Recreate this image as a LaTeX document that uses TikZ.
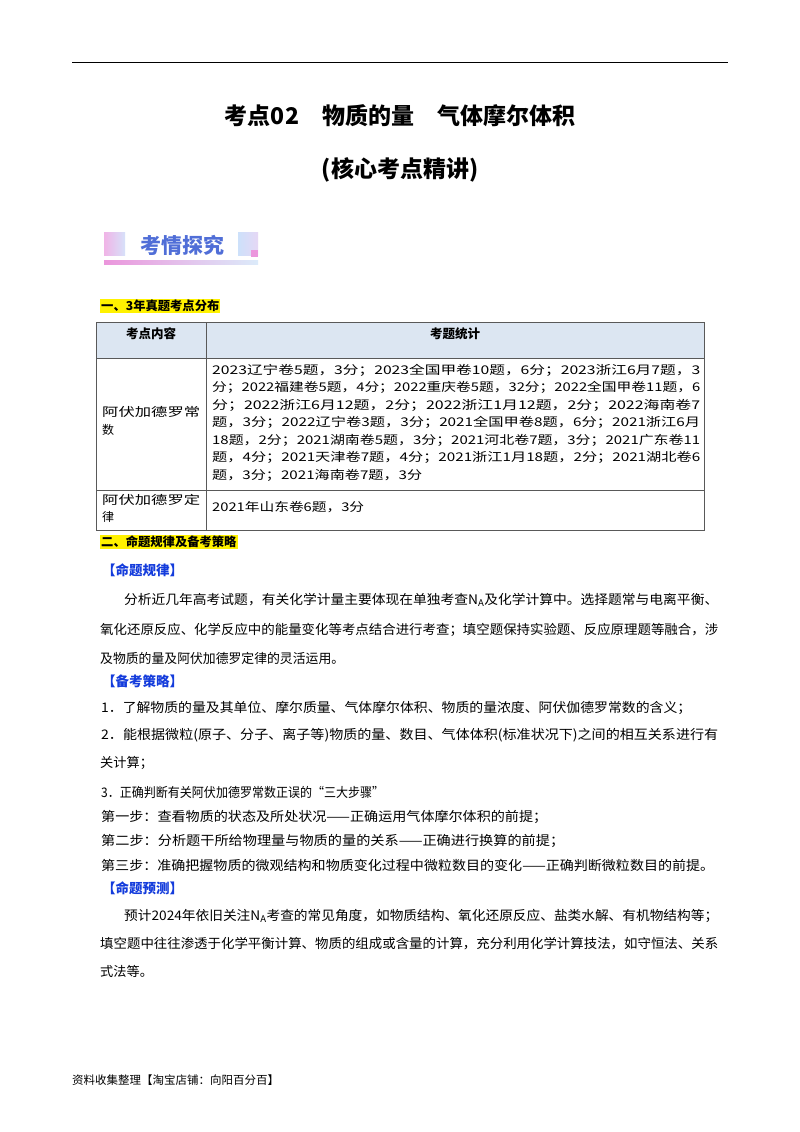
\documentclass[tikz,border=0pt]{standalone}
\usepackage{fontspec}
\usepackage{graphicx}
\setmainfont{Noto Sans CJK SC}
\definecolor{pinkA}{RGB}{240,180,230}
\definecolor{blueA}{RGB}{215,225,250}
\definecolor{blueB}{RGB}{205,225,250}
\definecolor{lavA}{RGB}{230,215,245}
\definecolor{pinkB}{RGB}{235,150,220}
\definecolor{blueC}{RGB}{220,235,250}
\definecolor{banT}{RGB}{80,110,215}
\definecolor{hdrF}{RGB}{220,230,242}
\definecolor{blT}{RGB}{20,60,220}
\newcommand{\fitw}[2]{\resizebox{#1}{\height}{#2}}
\begin{document}
\begin{tikzpicture}[x=1pt,y=-1pt,
  body/.style={anchor=west,inner sep=0pt,font=\fontsize{13.2}{15}\selectfont},
  tb/.style={anchor=west,inner sep=0pt,font=\fontsize{12}{14}\selectfont},
  hd/.style={anchor=west,inner sep=1pt,fill=yellow,font=\bfseries\fontsize{12.3}{15}\selectfont},
  bl/.style={anchor=west,inner sep=0pt,text=blT,font=\bfseries\fontsize{13.5}{15}\selectfont}]
\useasboundingbox (0,0) rectangle (800,1132);
\fill[white] (0,0) rectangle (800,1132);
\draw[line width=1pt] (72,63) -- (728,63);
\node[font=\bfseries\fontsize{23}{26}\selectfont] (t1) at (400,116) {考点02\quad 物质的量\quad 气体摩尔体积};
\node[font=\bfseries\fontsize{23}{26}\selectfont] (t2) at (400,170) {(核心考点精讲)};
% banner
\shade[left color=pinkA, right color=blueA] (104,232) rectangle (125,255);
\shade[left color=blueB, right color=lavA] (238,232) rectangle (258,255);
\fill[pinkB] (251,250) rectangle (258,257);
\shade[left color=pinkB, right color=blueC] (104,260) rectangle (258,264);
\node[anchor=west,inner sep=0pt,text=banT,font=\bfseries\fontsize{21}{22}\selectfont] (ban) at (140,245) {考情探究};
\node[hd] (h1) at (100,306) {一、3年真题考点分布};
% table
\fill[hdrF] (96,322) rectangle (704,358);
\draw[line width=0.8pt,gray!70!black] (96,322) rectangle (704,530);
\draw[line width=0.6pt,gray!70!black] (96,358) -- (704,358) (96,490) -- (704,490) (206,322) -- (206,530);
\node[anchor=center,font=\bfseries\fontsize{12.5}{14}\selectfont] (c1) at (151,334) {考点内容};
\node[anchor=center,font=\bfseries\fontsize{12.5}{14}\selectfont] (c2) at (455,334) {考题统计};
\node[tb] (r1a) at (102,412) {\fitw{98pt}{阿伏加德罗常}};
\node[tb] (r1b) at (102,430) {数};
\node[tb] (r2a) at (102,500) {\fitw{98pt}{阿伏加德罗定}};
\node[tb] (r2b) at (102,517) {律};
\node[tb] (l1) at (212,370) {\fitw{488pt}{2023辽宁卷5题，3分；2023全国甲卷10题，6分；2023浙江6月7题，3}};
\node[tb] (l2) at (212,387.5) {\fitw{488pt}{分；2022福建卷5题，4分；2022重庆卷5题，32分；2022全国甲卷11题，6}};
\node[tb] (l3) at (212,405) {\fitw{488pt}{分；2022浙江6月12题，2分；2022浙江1月12题，2分；2022海南卷7}};
\node[tb] (l4) at (212,422.5) {\fitw{488pt}{题，3分；2022辽宁卷3题，3分；2021全国甲卷8题，6分；2021浙江6月}};
\node[tb] (l5) at (212,440) {\fitw{488pt}{18题，2分；2021湖南卷5题，3分；2021河北卷7题，3分；2021广东卷11}};
\node[tb] (l6) at (212,457.5) {\fitw{488pt}{题，4分；2021天津卷7题，4分；2021浙江1月18题，2分；2021湖北卷6}};
\node[tb] (l7) at (212,475) {\fitw{210pt}{题，3分；2021海南卷7题，3分}};
\node[tb] (l8) at (212,507) {\fitw{152pt}{2021年山东卷6题，3分}};
\node[hd] (h2) at (100,542) {二、命题规律及备考策略};
\node[bl] (b1) at (102,570) {【命题规律】};
\node[body] (p1) at (124,600) {\fitw{594pt}{分析近几年高考试题，有关化学计量主要体现在单独考查N\textsubscript{A}及化学计算中。选择题常与电离平衡、}};
\node[body] (p2) at (100,630) {\fitw{618pt}{氧化还原反应、化学反应中的能量变化等考点结合进行考查；填空题保持实验题、反应原理题等融合，涉}};
\node[body] (p3) at (100,658) {\fitw{244pt}{及物质的量及阿伏加德罗定律的灵活运用。}};
\node[bl] (b2) at (102,681) {【备考策略】};
\node[body] (q1) at (101,708) {\fitw{590pt}{1．了解物质的量及其单位、摩尔质量、气体摩尔体积、物质的量浓度、阿伏伽德罗常数的含义；}};
\node[body] (q2) at (101,735) {\fitw{617pt}{2．能根据微粒(原子、分子、离子等)物质的量、数目、气体体积(标准状况下)之间的相互关系进行有}};
\node[body] (q3) at (100,763) {关计算；};
\node[body] (q4) at (101,792) {\fitw{283pt}{3．正确判断有关阿伏加德罗常数正误的“三大步骤”}};
\node[body] (q5) at (101,817) {\fitw{446pt}{第一步：查看物质的状态及所处状况——正确运用气体摩尔体积的前提；}};
\node[body] (q6) at (101,841) {\fitw{463pt}{第二步：分析题干所给物理量与物质的量的关系——正确进行换算的前提；}};
\node[body] (q7) at (101,865) {\fitw{613pt}{第三步：准确把握物质的微观结构和物质变化过程中微粒数目的变化——正确判断微粒数目的前提。}};
\node[bl] (b3) at (102,888) {【命题预测】};
\node[body] (s1) at (124,916) {\fitw{594pt}{预计2024年依旧关注N\textsubscript{A}考查的常见角度，如物质结构、氧化还原反应、盐类水解、有机物结构等；}};
\node[body] (s2) at (100,944) {\fitw{618pt}{填空题中往往渗透于化学平衡计算、物质的组成或含量的计算，充分利用化学计算技法，如守恒法、关系}};
\node[body] (s3) at (100,971) {式法等。};
\node[anchor=west,inner sep=0pt,font=\fontsize{11.5}{13}\selectfont] (ft) at (72,1080) {资料收集整理【淘宝店铺：向阳百分百】};
\end{tikzpicture}
\end{document}
